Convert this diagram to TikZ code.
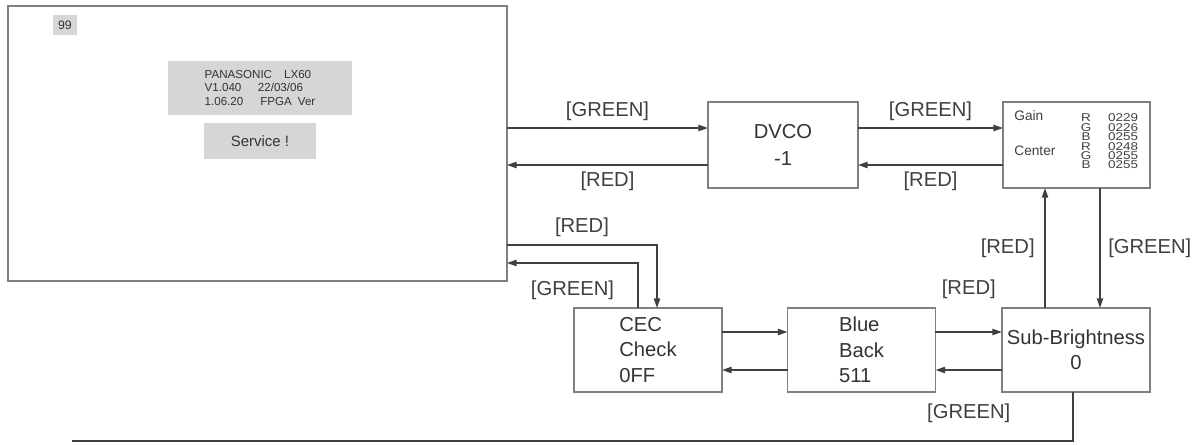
\documentclass[tikz,border=0pt]{standalone}
\usepackage{fontspec}
\setmainfont{Liberation Sans}
\usepackage{tikz}
\usetikzlibrary{arrows.meta}
\usetikzlibrary{positioning,calc}
\tikzset{
  every node/.style={font=\rmfamily}
}

\begin{document}
\begin{tikzpicture}[x=0.02cm,y=-0.02cm]
  % Define overall style for the diagram
  \tikzset{
    block/.style={
      draw=black!50,
      fill=white,
      line width=1.1pt,
      minimum width=2.96cm,
      minimum height=1.68cm,
      inner sep=0pt,
      outer sep=0pt,
      font=\fontsize{11.5}{14.5}\selectfont,
      text=black!80
    },
    panel/.style={
      fill=black!16,
      inner sep=0pt,
      outer sep=0pt,
      text=black!80
    },
    link/.style={
      draw=black!75,
      line width=0.8pt,
      -{Triangle[length=5.5pt, width=3.6pt]}
    },
    wire/.style={
      draw=black!75,
      line width=0.8pt
    },
    tag/.style={
      font=\fontsize{11.5}{13}\selectfont,
      text=black!75,
      inner sep=1pt
    },
    tiny/.style={
      font=\fontsize{6.4}{6}\selectfont,
      text=black!75,
      inner sep=0pt,
      transform shape,
      xscale=1.2
    }
  }

  \useasboundingbox (0,0) rectangle (1200,444);

  % Service menu screen
  \node[block, minimum width=9.98cm, minimum height=5.5cm] (screen) at (257.5,143.5) {};
  \node[panel, minimum width=0.48cm, minimum height=0.4cm, font=\fontsize{7}{8}\selectfont] (page) at (65,25) {99};
  \node[panel, minimum width=3.68cm, minimum height=1.08cm, align=left, font=\fontsize{6.6}{7.9}\selectfont] (info) at (260,88)
    {PANASONIC\hspace{0.24cm}LX60\\V1.040\hspace{0.33cm}22/03/06\\1.06.20\hspace{0.34cm}FPGA\hspace{0.12cm}Ver};
  \node[panel, minimum width=2.24cm, minimum height=0.72cm, font=\fontsize{8.5}{10}\selectfont] (service) at (260,141) {Service !};

  % Adjustment blocks
  \node[block, minimum width=3cm, minimum height=1.72cm, align=center, font=\fontsize{11.5}{15.3}\selectfont] (dvco) at (783,145) {DVCO\\-1};
  \node[block, minimum width=2.94cm, minimum height=1.72cm] (gain) at (1076.5,145) {};
  \node[block, align=left] (cec) at (648,350) {CEC\\Check\\0FF};
  \node[block, align=left] (blue) at (861.5,350) {Blue\\Back\\511};
  \node[block, align=center] (sub) at (1076,350) {Sub-Brightness\\0};

  % Gain and center table
  \node[anchor=west, inner sep=0pt, text=black!75, font=\fontsize{7.8}{9}\selectfont] (gainlbl) at (1014,116) {Gain};
  \node[anchor=west, inner sep=0pt, text=black!75, font=\fontsize{7.8}{9}\selectfont] (centerlbl) at (1014,151) {Center};
  \foreach \ch/\val [count=\i from 0] in {R/0229,G/0226,B/0255,R/0248,G/0255,B/0255} {
    \node[tiny] (ch\i) at (1086,118+9.4*\i) {\ch};
    \node[tiny] (val\i) at (1123,118+9.4*\i) {\val};
  }

  % Top row
  \draw[link] ([yshift=0.34cm]dvco.west -| screen.east) -- ([yshift=0.34cm]dvco.west)
    node[tag, midway, above=3pt] {[GREEN]};
  \draw[link] ([yshift=-0.4cm]dvco.west) -- ([yshift=-0.4cm]dvco.west -| screen.east)
    node[tag, midway, below=2.5pt] {[RED]};
  \draw[link] ([yshift=0.34cm]dvco.east) -- ([yshift=0.34cm]dvco.east -| gain.west)
    node[tag, midway, above=3pt] {[GREEN]};
  \draw[link] ([yshift=-0.4cm]dvco.east -| gain.west) -- ([yshift=-0.4cm]dvco.east)
    node[tag, midway, below=2.5pt] {[RED]};

  % Screen and CEC check
  \draw[link] ([yshift=-2.03cm]screen.east) -| ([xshift=0.18cm]cec.north)
    node[tag, pos=0.25, above=3.3pt] {[RED]};
  \draw[link] ([xshift=-0.2cm]cec.north) |- ([yshift=-2.39cm]screen.east)
    node[tag, pos=0.75, below=9pt] {[GREEN]};

  % Sub-brightness and gain
  \draw[link] ([xshift=-0.62cm]sub.north) -- ([xshift=-0.62cm]sub.north |- gain.south)
    node[tag, midway, left=4.5pt] {[RED]};
  \draw[link] ([xshift=0.48cm]sub.north |- gain.south) -- ([xshift=0.48cm]sub.north)
    node[tag, midway, right=3.3pt] {[GREEN]};

  % Bottom row
  \draw[link] ([yshift=0.36cm]cec.east) -- ([yshift=0.36cm]cec.east -| blue.west);
  \draw[link] ([yshift=-0.4cm]blue.west) -- ([yshift=-0.4cm]blue.west -| cec.east);
  \draw[link] ([yshift=0.36cm]blue.east) -- ([yshift=0.36cm]blue.east -| sub.west)
    node[tag, midway, above=17.6pt] {[RED]};
  \draw[link] ([yshift=-0.4cm]sub.west) -- ([yshift=-0.4cm]sub.west -| blue.east)
    node[tag, midway, below=17.6pt] {[GREEN]};

  % Return line
  \coordinate (tail) at (72,441);
  \draw[wire] ([xshift=-0.06cm]sub.south) |- (tail);
\end{tikzpicture}
\end{document}
